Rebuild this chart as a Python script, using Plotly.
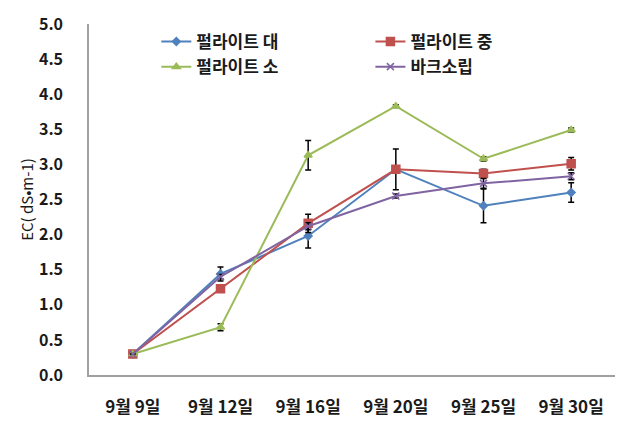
import plotly.graph_objects as go

categories = ["9월 9일", "9월 12일", "9월 16일", "9월 20일", "9월 25일", "9월 30일"]
names = ["펄라이트 대", "펄라이트 중", "펄라이트 소", "바크소립"]
v_large = [0.30, 1.44, 1.98, 2.93, 2.41, 2.60]
v_medium = [0.30, 1.23, 2.16, 2.93, 2.87, 3.01]
v_small = [0.30, 0.68, 3.13, 3.83, 3.08, 3.49]
v_bark = [0.30, 1.40, 2.12, 2.55, 2.73, 2.83]
e_large = [0.0, 0.10, 0.17, 0.0, 0.24, 0.14]
e_medium = [0.0, 0.05, 0.13, 0.29, 0.06, 0.09]
e_small = [0.0, 0.05, 0.21, 0.02, 0.03, 0.03]
e_bark = [0.0, 0.03, 0.05, 0.03, 0.07, 0.05]
y_ticks = [0.0, 0.5, 1.0, 1.5, 2.0, 2.5, 3.0, 3.5, 4.0, 4.5, 5.0]

colors = ["#4F81BD", "#C0504D", "#9BBB59", "#8064A2"]
symbols = ["diamond", "square", "triangle-up", "x-thin-open"]
msizes = [6, 8, 7, 7]
series = [v_large, v_medium, v_small, v_bark]
errs = [e_large, e_medium, e_small, e_bark]
legends = ["legend", "legend2", "legend", "legend2"]

font_family = "Noto Sans CJK KR"
text_color = "#1a1a1a"

fig = go.Figure()
for i in range(4):
    fig.add_trace(go.Scatter(
        x=categories, y=series[i], name=names[i], mode="lines+markers",
        line=dict(color=colors[i], width=2),
        marker=dict(symbol=symbols[i], size=msizes[i], color=colors[i],
                    line=dict(color=colors[i], width=1.5)),
        error_y=dict(type="data", array=errs[i], visible=True,
                     color="black", thickness=1.5, width=3),
        legend=legends[i],
    ))

legend_font = dict(size=17, family=font_family, weight="bold", color=text_color)
fig.update_layout(
    width=626, height=429,
    margin=dict(l=89, r=11, t=18, b=48),
    paper_bgcolor="white", plot_bgcolor="white",
    font=dict(family=font_family, color=text_color),
    showlegend=True,
    legend=dict(x=0.128, y=1.0, xanchor="left", yanchor="top",
                font=legend_font, bgcolor="rgba(0,0,0,0)",
                tracegroupgap=0, itemwidth=30),
    legend2=dict(x=0.535, y=1.0, xanchor="left", yanchor="top",
                 font=legend_font, bgcolor="rgba(0,0,0,0)",
                 tracegroupgap=0, itemwidth=30),
)
fig.update_xaxes(
    type="category", range=[-0.5, 5.5],
    showline=True, linecolor="#A0A0A0", linewidth=1.5,
    showgrid=False, ticks="", ticklabelstandoff=16,
    tickfont=dict(size=17, family=font_family, weight="bold", color=text_color),
)
fig.update_yaxes(
    range=[0, 5], tickvals=y_ticks, ticktext=[f"{t:.1f}" for t in y_ticks],
    showline=True, linecolor="#A0A0A0", linewidth=1.5,
    showgrid=False, zeroline=False, ticks="", ticklabelstandoff=21,
    tickfont=dict(size=16, family=font_family, weight="bold", color=text_color),
    title=dict(text="EC( dS•m-1)", standoff=2,
               font=dict(size=15, family=font_family, color=text_color)),
)

fig.write_html("out.html")
